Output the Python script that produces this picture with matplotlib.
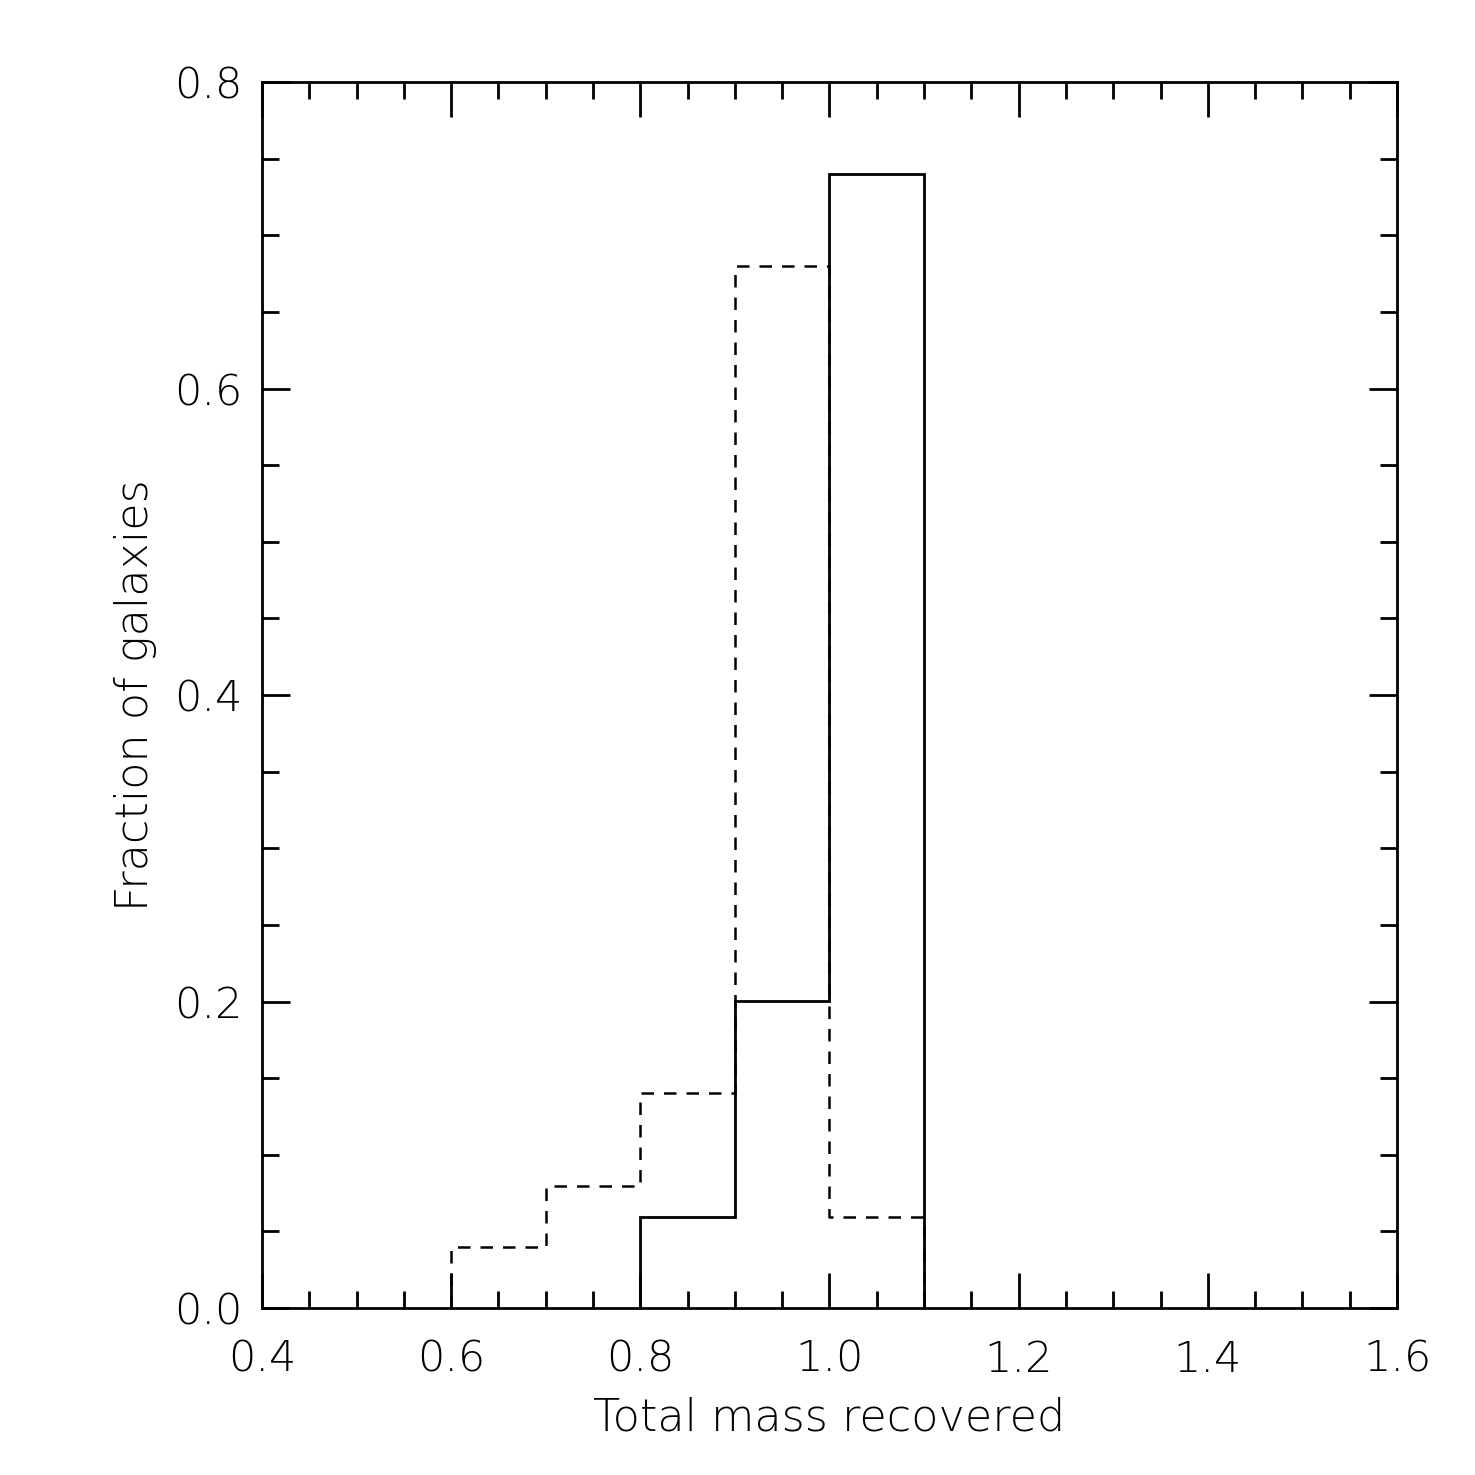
import matplotlib
matplotlib.use("Agg")
import matplotlib.pyplot as plt
from matplotlib.ticker import MultipleLocator
import numpy as np

bin_edges = [0.6, 0.7, 0.8, 0.9, 1.0, 1.1]
solid_vals = [0.0, 0.0, 0.0594, 0.2003, 0.740]
dashed_vals = [0.0398, 0.0796, 0.1403, 0.680, 0.0594]

xticks = [0.4, 0.6, 0.8, 1.0, 1.2, 1.4, 1.6]
yticks = [0.0, 0.2, 0.4, 0.6, 0.8]

plt.rcParams['font.family'] = ['DejaVu Sans']

fig = plt.figure(figsize=(14.75, 14.75), dpi=100)
ax = fig.add_axes([0.1776, 0.1132, 0.9471 - 0.1776, 0.9444 - 0.1132])

e = np.array(bin_edges)

# solid histogram outline (starts where values become nonzero)
sv = np.array(solid_vals)
nz = np.nonzero(sv)[0]
i0, i1 = nz[0], nz[-1]
xs = [e[i0]]
ys = [0]
for i in range(i0, i1 + 1):
    xs += [e[i], e[i + 1]]
    ys += [sv[i], sv[i]]
xs.append(e[i1 + 1]); ys.append(0)
ax.plot(xs, ys, color='black', lw=2.0, solid_joinstyle='miter')

# dashed histogram outline
dv = np.array(dashed_vals)
xs = [e[0]]
ys = [0]
for i in range(len(dv)):
    xs += [e[i], e[i + 1]]
    ys += [dv[i], dv[i]]
xs.append(e[-1]); ys.append(0)
ax.plot(xs, ys, color='black', lw=1.8, dashes=(5, 4))

ax.set_xlim(0.4, 1.6)
ax.set_ylim(0.0, 0.8)
ax.set_xticks(xticks)
ax.set_yticks(yticks)
ax.set_xticklabels([f"{t:.1f}" for t in xticks])
ax.set_yticklabels([f"{t:.1f}" for t in yticks])
ax.xaxis.set_minor_locator(MultipleLocator(0.05))
ax.yaxis.set_minor_locator(MultipleLocator(0.05))
ax.tick_params(which='both', direction='in', top=True, right=True, width=2.0, color='black')
ax.tick_params(which='major', axis='x', length=25, pad=22)
ax.tick_params(which='major', axis='y', length=20, pad=14)
ax.tick_params(which='minor', length=12)
for lab in ax.get_xticklabels() + ax.get_yticklabels():
    lab.set_fontsize(31)
    lab.set_fontweight('light')
for s in ax.spines.values():
    s.set_linewidth(2.0)

ax.set_xlabel("Total mass recovered", fontsize=32, fontweight='light', labelpad=12)
ax.set_ylabel("Fraction of galaxies", fontsize=32, fontweight='light', labelpad=12)

fig.savefig("out.png", dpi=100, facecolor='white')
